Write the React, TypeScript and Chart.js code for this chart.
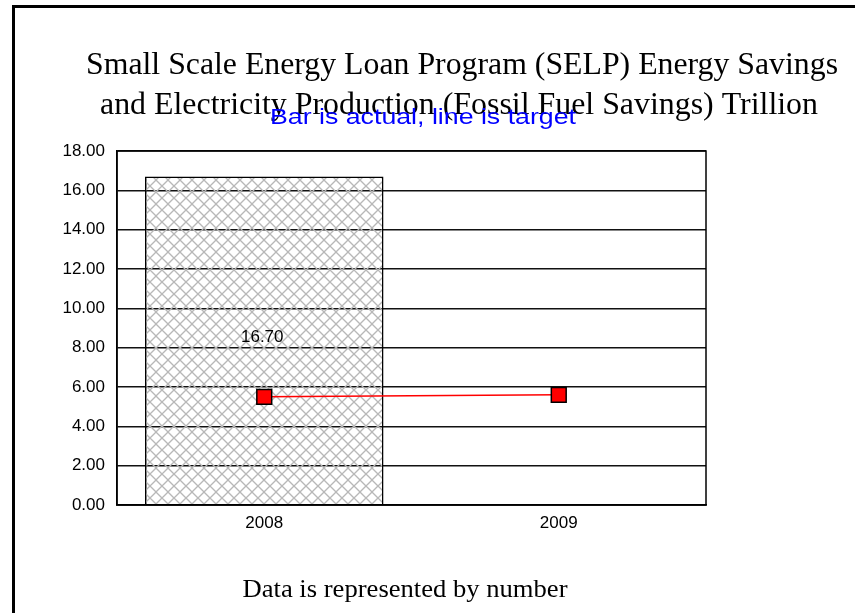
import React, { useEffect, useRef } from "react";
import { Chart, registerables } from "chart.js";

Chart.register(...registerables);

const categories = ["2008", "2009"];
const actualValues = [16.7, null];
const targetValues = [5.5, 5.6];
const actualLabels = ["16.70", ""];
const titleLines = [
  "Small Scale Energy Loan Program (SELP) Energy Savings",
  "and Electricity Production (Fossil Fuel Savings) Trillion",
];
const subtitleText = "Bar is actual, line is target";
const footerText = "Data is represented by number";
const yMin = 0;
const yMax = 18;
const yStep = 2;

function makeHatch(): CanvasPattern | string {
  const c = document.createElement("canvas");
  c.width = 12;
  c.height = 12;
  const g = c.getContext("2d");
  if (!g) return "#ddd";
  g.strokeStyle = "#b8b8b8";
  g.lineWidth = 1.3;
  for (const off of [-12, 0, 12]) {
    g.beginPath();
    g.moveTo(off, 0);
    g.lineTo(off + 12, 12);
    g.stroke();
    g.beginPath();
    g.moveTo(off + 12, 0);
    g.lineTo(off, 12);
    g.stroke();
  }
  const p = g.createPattern(c, "repeat");
  return p || "#ddd";
}

function fitText(ctx: CanvasRenderingContext2D, text: string, cx: number, y: number, width: number) {
  const w = ctx.measureText(text).width;
  const sx = width / w;
  ctx.save();
  ctx.translate(cx, y);
  ctx.scale(sx, 1);
  ctx.textAlign = "center";
  ctx.fillText(text, 0, 0);
  ctx.restore();
}

const framePlugin = {
  id: "frame",
  beforeDraw(chart: any) {
    const ctx = chart.ctx;
    ctx.save();
    ctx.fillStyle = "#fff";
    ctx.fillRect(0, 0, chart.width, chart.height);
    ctx.fillStyle = "#000";
    ctx.fillRect(12, 5, 3, chart.height - 5);
    ctx.fillRect(12, 5, chart.width - 12, 3);
    ctx.textBaseline = "alphabetic";
    ctx.font = '31px "Liberation Serif"';
    fitText(ctx, titleLines[0], 462, 74, 752);
    fitText(ctx, titleLines[1], 459, 114, 718);
    ctx.fillStyle = "#0000ff";
    ctx.font = '22px "Liberation Sans"';
    ctx.textBaseline = "alphabetic";
    fitText(ctx, subtitleText, 423, 124, 306);
    ctx.fillStyle = "#000";
    ctx.font = '26px "Liberation Serif"';
    ctx.textBaseline = "alphabetic";
    fitText(ctx, footerText, 405, 597, 325);
    ctx.restore();
  },
  afterDatasetsDraw(chart: any) {
    const ctx = chart.ctx;
    const a = chart.chartArea;
    ctx.save();
    ctx.strokeStyle = "#000";
    ctx.lineWidth = 1.5;
    ctx.strokeRect(a.left, a.top, a.right - a.left, a.bottom - a.top);
    const meta = chart.getDatasetMeta(1);
    ctx.font = '17px "Liberation Sans"';
    ctx.fillStyle = "#000";
    ctx.textAlign = "center";
    ctx.textBaseline = "middle";
    meta.data.forEach((el: any, i: number) => {
      const v = actualValues[i];
      if (v == null) return;
      const yMid = (el.y + el.base) / 2 - 3;
      ctx.fillText(actualLabels[i], el.x - 2, yMid);
    });
    ctx.restore();
  },
};

export default function App() {
  const ref = useRef<HTMLCanvasElement | null>(null);
  useEffect(() => {
    if (!ref.current) return;
    const chart = new Chart(ref.current, {
      type: "bar",
      data: {
        labels: categories,
        datasets: [
          {
            type: "line",
            label: "Target",
            data: targetValues,
            borderColor: "#ff0000",
            borderWidth: 1.5,
            pointStyle: "rect",
            pointRadius: 10.5,
            pointBackgroundColor: "#ff0000",
            pointBorderColor: "#000",
            pointBorderWidth: 1.5,
            order: 0,
          } as any,
          {
            type: "bar",
            label: "Actual",
            data: actualValues,
            backgroundColor: makeHatch() as any,
            borderColor: "#000",
            borderWidth: 1.5,
            barPercentage: 0.81,
            categoryPercentage: 1,
            order: 1,
          } as any,
        ],
      },
      options: {
        responsive: false,
        animation: false,
        layout: { padding: { left: 0, top: 151, right: 149, bottom: 0 } },
        plugins: { legend: { display: false }, tooltip: { enabled: false }, title: { display: false } },
        scales: {
          x: {
            grid: { display: false, drawTicks: false },
            border: { display: true, color: "#000", width: 1.5 },
            ticks: { color: "#000", font: { family: "Liberation Sans", size: 17 }, padding: 8 },
            afterFit: (s: any) => { s.height = 108; },
          },
          y: {
            min: yMin,
            max: yMax,
            grid: { color: "#111", lineWidth: 1.5, drawTicks: false },
            border: { display: true, color: "#000", width: 1.5 },
            ticks: {
              stepSize: yStep,
              color: "#000",
              font: { family: "Liberation Sans", size: 17 },
              padding: 12,
              callback: (v: any) => Number(v).toFixed(2),
            },
            afterFit: (s: any) => { s.width = 117; },
          },
        },
      },
      plugins: [framePlugin],
    });
    return () => chart.destroy();
  }, []);
  return (
    <div style={{ position: "absolute", left: 0, top: 0, width: 855, height: 613 }}>
      <canvas ref={ref} width={855} height={613} style={{ display: "block" }} />
    </div>
  );
}
